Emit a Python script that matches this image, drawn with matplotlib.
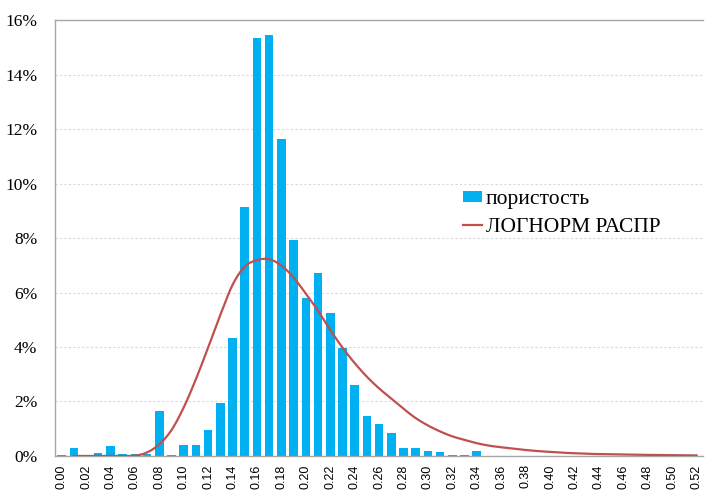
import matplotlib
matplotlib.use("Agg")
import numpy as np
import matplotlib.pyplot as plt
from matplotlib.ticker import FuncFormatter, MultipleLocator

# Porosity classes (fraction units) shown on the category axis
porosity_bins = [
    "0.00", "0.01", "0.02", "0.03", "0.04", "0.05", "0.06", "0.07", "0.08", "0.09",
    "0.10", "0.11", "0.12", "0.13", "0.14", "0.15", "0.16", "0.17", "0.18", "0.19",
    "0.20", "0.21", "0.22", "0.23", "0.24", "0.25", "0.26", "0.27", "0.28", "0.29",
    "0.30", "0.31", "0.32", "0.33", "0.34", "0.35", "0.36", "0.37", "0.38", "0.39",
    "0.40", "0.41", "0.42", "0.43", "0.44", "0.45", "0.46", "0.47", "0.48", "0.49",
    "0.50", "0.51", "0.52",
]

# Observed frequency of porosity, %
porosity_freq = [
    0.05, 0.30, 0.00, 0.12, 0.37, 0.09, 0.09, 0.06, 1.66, 0.05,
    0.42, 0.41, 0.94, 1.96, 4.33, 9.14, 15.35, 15.45, 11.65, 7.94,
    5.81, 6.72, 5.23, 3.95, 2.62, 1.48, 1.18, 0.86, 0.29, 0.29,
    0.19, 0.14, 0.03, 0.03, 0.20, 0.00, 0.00, 0.00, 0.00, 0.00,
    0.00, 0.00, 0.00, 0.00, 0.00, 0.00, 0.00, 0.00, 0.00, 0.00,
    0.00, 0.00, 0.00,
]

# Fitted lognormal density, % (defined from 0.01 onward)
lognorm_fit = [
    None, 0.00, 0.00, 0.00, 0.00, 0.00, 0.01, 0.13, 0.43, 0.95,
    1.78, 2.82, 3.98, 5.18, 6.28, 6.95, 7.19, 7.22, 6.99, 6.55,
    5.96, 5.33, 4.63, 3.98, 3.41, 2.91, 2.48, 2.11, 1.73, 1.39,
    1.12, 0.90, 0.72, 0.59, 0.47, 0.38, 0.32, 0.27, 0.22, 0.18,
    0.15, 0.12, 0.10, 0.08, 0.07, 0.06, 0.05, 0.045, 0.04, 0.035,
    0.03, 0.025, 0.02,
]

series_names = ["пористость", "ЛОГНОРМ РАСПР"]


def smooth_line(xs, ys, steps=12):
    """Catmull-Rom curve through the points, like a spreadsheet 'smoothed line'."""
    xs = np.asarray(xs, float)
    ys = np.asarray(ys, float)
    px = np.concatenate([[2 * xs[0] - xs[1]], xs, [2 * xs[-1] - xs[-2]]])
    py = np.concatenate([[2 * ys[0] - ys[1]], ys, [2 * ys[-1] - ys[-2]]])
    out_x, out_y = [], []
    t = np.linspace(0, 1, steps, endpoint=False)
    for i in range(1, len(px) - 2):
        for arr, out in ((px, out_x), (py, out_y)):
            p0, p1, p2, p3 = arr[i - 1], arr[i], arr[i + 1], arr[i + 2]
            out.extend(0.5 * ((2 * p1) + (-p0 + p2) * t
                              + (2 * p0 - 5 * p1 + 4 * p2 - p3) * t ** 2
                              + (-p0 + 3 * p1 - 3 * p2 + p3) * t ** 3))
    out_x.append(xs[-1])
    out_y.append(ys[-1])
    return np.array(out_x), np.array(out_y)


plt.rcParams["font.family"] = ["Liberation Serif", "DejaVu Serif"]

fig = plt.figure(figsize=(7.05, 4.92), dpi=100)
ax = fig.add_axes([0.0787, 0.0732, 0.918, 0.886])

pos = list(range(len(porosity_bins)))
bars = ax.bar(pos, porosity_freq, width=0.7, color="#00B0F0", zorder=2)

line_x = [p for p, v in zip(pos, lognorm_fit) if v is not None]
line_y = [v for v in lognorm_fit if v is not None]
sx, sy = smooth_line(line_x, line_y)
(line,) = ax.plot(sx, sy, color="#C0504D", lw=1.6, zorder=3)

ax.set_xlim(-0.5, len(porosity_bins) - 0.5)
ax.set_ylim(0, 16)
ax.yaxis.set_major_locator(MultipleLocator(2))
ax.yaxis.set_major_formatter(FuncFormatter(lambda v, _: f"{v:.0f}%"))

ax.set_xticks(pos[::2])
ax.set_xticklabels(porosity_bins[::2], rotation=90, fontsize=9,
                   family=["Liberation Sans", "DejaVu Sans"])
ax.tick_params(axis="x", length=0, pad=6)
ax.tick_params(axis="y", length=0, pad=13, labelsize=12.5)

ax.grid(axis="y", color="#D9D9D9", linestyle=(0, (2, 2)), linewidth=0.8, zorder=0)
for side in ("left", "bottom", "top"):
    ax.spines[side].set_color("#A6A6A6")
    ax.spines[side].set_linewidth(1.0)
ax.spines["right"].set_visible(False)

ax.legend(
    [bars, line], series_names,
    loc="upper left",
    bbox_to_anchor=(463 / 705, 1 - 190 / 492),
    bbox_transform=fig.transFigure,
    frameon=False,
    fontsize=15.5,
    handlelength=0.9,
    handleheight=0.45,
    handletextpad=0.15,
    labelspacing=0.4,
    borderpad=0,
    borderaxespad=0,
)

fig.savefig("out.png", dpi=100)
